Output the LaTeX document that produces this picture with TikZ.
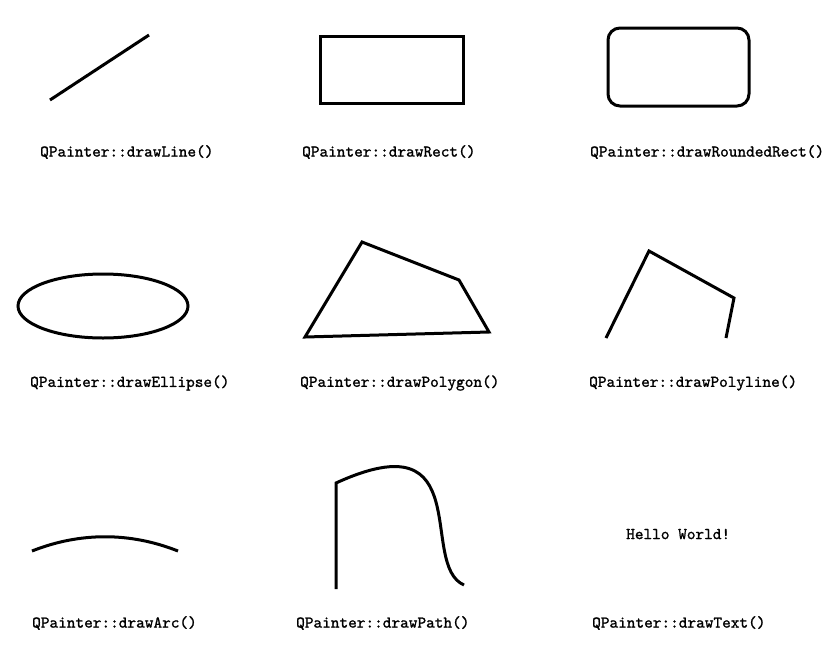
\documentclass[tikz,border=0pt]{standalone}
\usepackage{fontspec}
\newfontfamily\capfont{lmmono10-regular}[Extension=.otf, FakeBold=1.2]
\begin{document}
\begin{tikzpicture}[x=1pt,y=-1pt,
  shape line/.style={line width=3pt, line join=miter},
  caption/.style={anchor=west, inner sep=0pt, font=\capfont\fontsize{16.5}{18}\selectfont}]
\useasboundingbox[fill=white] (0,0) rectangle (830,646);
% row 1
\draw[shape line] (50,100) -- (149,35);
\draw[shape line] (320,36) rectangle (463,103);
\draw[shape line, rounded corners=12pt] (608,28) rectangle (749,106);
\node[caption] (c1) at (40,152) {QPainter::drawLine()};
\node[caption] (c2) at (302,152) {QPainter::drawRect()};
\node[caption] (c3) at (590,152) {QPainter::drawRoundedRect()};
% row 2
\draw[shape line] (103,306) ellipse [x radius=85, y radius=32];
\draw[shape line] (305,337) -- (362,242) -- (459,280) -- (489,332) -- cycle;
\draw[shape line] (606,338) -- (649,251) -- (734,298) -- (726,338);
\node[caption] (c4) at (30,383) {QPainter::drawEllipse()};
\node[caption] (c5) at (300,383) {QPainter::drawPolygon()};
\node[caption] (c6) at (589,383) {QPainter::drawPolyline()};
% row 3
\draw[shape line] (32,551) .. controls (80,532) and (130,532) .. (178,551);
\draw[shape line] (336,589) -- (336,483) .. controls (478,418) and (418,565) .. (464,585);
\node[caption] (t) at (626,534) {Hello World!};
\node[caption] (c7) at (32,623) {QPainter::drawArc()};
\node[caption] (c8) at (296,623) {QPainter::drawPath()};
\node[caption] (c9) at (592,623) {QPainter::drawText()};
\end{tikzpicture}
\end{document}
